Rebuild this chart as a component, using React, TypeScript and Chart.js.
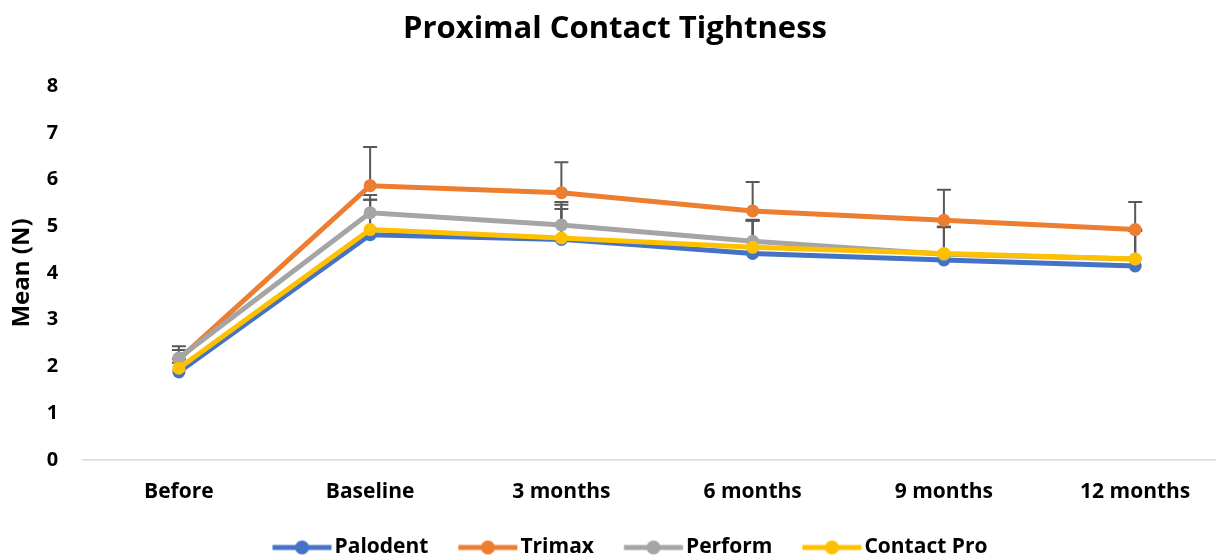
import React, { useEffect, useRef } from "react";
import { Chart, registerables } from "chart.js";

Chart.register(...registerables);

const categories = ["Before", "Baseline", "3 months", "6 months", "9 months", "12 months"];
const yTicks = [0, 1, 2, 3, 4, 5, 6, 7, 8];

const palodent = [1.88, 4.82, 4.72, 4.42, 4.28, 4.15];
const trimax = [2.15, 5.87, 5.72, 5.33, 5.13, 4.93];
const perform = [2.18, 5.29, 5.03, 4.68, 4.40, 4.30];
const contactPro = [1.96, 4.93, 4.75, 4.55, 4.42, 4.30];

const palodentErr = [0.2, 0.75, 0.74, 0.7, 0.7, 0.78];
const trimaxErr = [0.2, 0.83, 0.65, 0.62, 0.65, 0.59];
const performErr = [0.25, 0.38, 0.49, 0.46, 0.59, 0.6];
const contactProErr = [0.2, 0.64, 0.62, 0.57, 0.57, 0.6];

const FONT = "'Open Sans', sans-serif";

// legend swatch: line with a marker; image is wider than the reserved box
function makeSwatch(color: string): HTMLCanvasElement {
  const c = document.createElement("canvas");
  c.width = 100;
  c.height = 16;
  const ctx = c.getContext("2d")!;
  const x0 = 39.25;
  const x1 = 98.25;
  ctx.strokeStyle = color;
  ctx.lineWidth = 5;
  ctx.beginPath();
  ctx.moveTo(x0, 8);
  ctx.lineTo(x1, 8);
  ctx.stroke();
  ctx.fillStyle = color;
  ctx.beginPath();
  ctx.arc((x0 + x1) / 2, 8, 7, 0, Math.PI * 2);
  ctx.fill();
  return c;
}

const errorBarPlugin = {
  id: "errorBars",
  beforeDatasetsDraw(chart: any) {
    const ctx = chart.ctx;
    const yScale = chart.scales.y;
    ctx.save();
    ctx.strokeStyle = "#595959";
    ctx.lineWidth = 2;
    chart.data.datasets.forEach((ds: any, i: number) => {
      const meta = chart.getDatasetMeta(i);
      if (!meta || meta.hidden) return;
      meta.data.forEach((pt: any, j: number) => {
        const raw = ds.data[j];
        const v = typeof raw === "object" ? raw.y : raw;
        const e = ds.errorBars ? ds.errorBars[j] : 0;
        if (!e) return;
        const yTop = yScale.getPixelForValue(v + e);
        ctx.beginPath();
        ctx.moveTo(pt.x, pt.y);
        ctx.lineTo(pt.x, yTop);
        ctx.moveTo(pt.x - 7, yTop);
        ctx.lineTo(pt.x + 7, yTop);
        ctx.stroke();
      });
    });
    ctx.restore();
  },
};

export default function App() {
  const ref = useRef<HTMLCanvasElement | null>(null);

  useEffect(() => {
    document.body.style.margin = "0";
    const series = [
      { label: "Palodent", data: palodent, err: palodentErr, color: "#4472C4", order: 4 },
      { label: "Trimax", data: trimax, err: trimaxErr, color: "#ED7D31", order: 3 },
      { label: "Perform", data: perform, err: performErr, color: "#A5A5A5", order: 2 },
      { label: "Contact Pro", data: contactPro, err: contactProErr, color: "#FFC000", order: 1 },
    ];
    const chart = new Chart(ref.current!, {
      type: "line",
      data: {
        datasets: series.map((s) => ({
          label: s.label,
          data: s.data.map((y, i) => ({ x: i, y })),
          errorBars: s.err,
          borderColor: s.color,
          backgroundColor: s.color,
          pointBackgroundColor: s.color,
          pointBorderColor: s.color,
          borderWidth: 5,
          pointRadius: 6.5,
          pointBorderWidth: 0,
          pointStyle: "circle",
          tension: 0,
          order: s.order,
        })) as any,
      },
      options: {
        animation: false,
        responsive: true,
        maintainAspectRatio: false,
        layout: { padding: { left: 8, right: 0, top: 4, bottom: -13 } },
        plugins: {
          title: {
            display: true,
            text: "Proximal Contact Tightness",
            color: "#000",
            font: { family: FONT, size: 31, weight: "bold" },
            padding: { top: 7, bottom: 38 },
          },
          legend: {
            position: "bottom",
            labels: {
              usePointStyle: true,
              pointStyleWidth: 81.5,
              color: "#000",
              font: { family: FONT, size: 21, weight: "bold" },
              padding: 0,
              generateLabels(chart: any) {
                return chart.data.datasets.map((ds: any, i: number) => ({
                  text: ds.label,
                  fillStyle: ds.borderColor,
                  strokeStyle: ds.borderColor,
                  lineWidth: 0,
                  pointStyle: makeSwatch(ds.borderColor),
                  hidden: false,
                  datasetIndex: i,
                  fontColor: "#000",
                }));
              },
            },
          },
          tooltip: { enabled: false },
        },
        scales: {
          x: {
            type: "linear",
            min: -0.5,
            max: 5.42,
            afterBuildTicks(scale: any) {
              scale.ticks = categories.map((_, i) => ({ value: i }));
            },
            grid: { display: false, drawTicks: false },
            border: { display: true, color: "#d9d9d9", width: 1.5 },
            ticks: {
              color: "#000",
              font: { family: FONT, size: 21, weight: "bold" },
              padding: 20,
              maxRotation: 0,
              autoSkip: false,
              callback: (v: any) => categories[Math.round(Number(v))] ?? "",
            },
            afterFit(scale: any) {
              scale.height += 12;
            },
          },
          y: {
            min: 0,
            max: 8,
            afterBuildTicks(scale: any) {
              scale.ticks = yTicks.map((v) => ({ value: v }));
            },
            afterFit(scale: any) {
              scale.width -= 23;
            },
            grid: { display: false, drawTicks: false },
            border: { display: false },
            ticks: {
              color: "#000",
              font: { family: FONT, size: 20, weight: "bold" },
              padding: 25,
            },
            title: {
              display: true,
              text: "Mean (N)",
              color: "#000",
              font: { family: FONT, size: 24, weight: "bold" },
              padding: { top: 0, bottom: 8 },
            },
          },
        },
      },
      plugins: [errorBarPlugin],
    });
    return () => chart.destroy();
  }, []);

  return (
    <div style={{ width: 1222, height: 555, position: "relative" }}>
      <canvas ref={ref} />
    </div>
  );
}
